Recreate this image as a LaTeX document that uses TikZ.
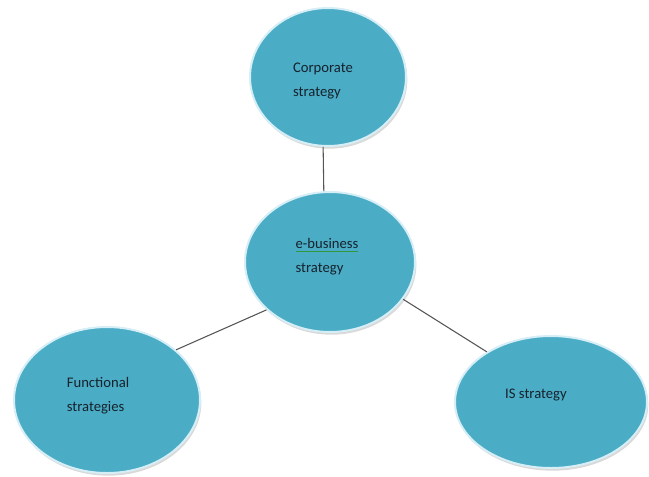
\documentclass[tikz,border=0pt]{standalone}
\usepackage{fontspec}
\setmainfont{Carlito}
\usetikzlibrary{shapes.geometric,shadows}

\definecolor{bubblefill}{RGB}{75,172,198}
\definecolor{bubbleedge}{RGB}{214,238,246}
\definecolor{linkgray}{RGB}{85,85,85}
\definecolor{labelink}{RGB}{22,34,44}
\definecolor{squiggle}{RGB}{50,150,60}

\tikzset{
  bubble/.style={ellipse, fill=bubblefill, draw=bubbleedge, line width=1.5pt, inner sep=0pt,
    drop shadow={shadow xshift=1pt, shadow yshift=-2pt, opacity=0.3}},
  txt/.style={align=left, text=labelink, font=\fontsize{11pt}{18pt}\selectfont, inner sep=0pt},
  link/.style={draw=linkgray, line width=0.8pt}
}

\begin{document}
\begin{tikzpicture}[x=0.75pt, y=-0.75pt]
    \useasboundingbox (0, 0) rectangle (649, 476);

    \node[bubble, minimum width=117pt, minimum height=103.5pt] (ecorp) at (328, 77) {};
    \node[bubble, minimum width=127.5pt, minimum height=105pt] (ebiz) at (330, 262) {};
    \node[bubble, minimum width=139.5pt, minimum height=109.5pt] (efunc) at (107, 400) {};
    \node[bubble, minimum width=144pt, minimum height=99pt] (eis) at (551, 402) {};

    \node[txt] (tcorp) at (323, 81) {Corporate\\strategy};
    \node[txt] (tbiz) at (327, 257) {{\color{squiggle}\underline{\textcolor{labelink}{e-business}}}\\strategy};
    \node[txt] (tfunc) at (98, 396) {Functional\\strategies};
    \node[txt] (tis) at (536, 395) {IS strategy};

    \draw[link] (ecorp.266) -- (ebiz.95);
    \draw[link] (efunc.36) -- (ebiz.217);
    \draw[link] (ebiz.-27) -- (eis.142);
\end{tikzpicture}
\end{document}
